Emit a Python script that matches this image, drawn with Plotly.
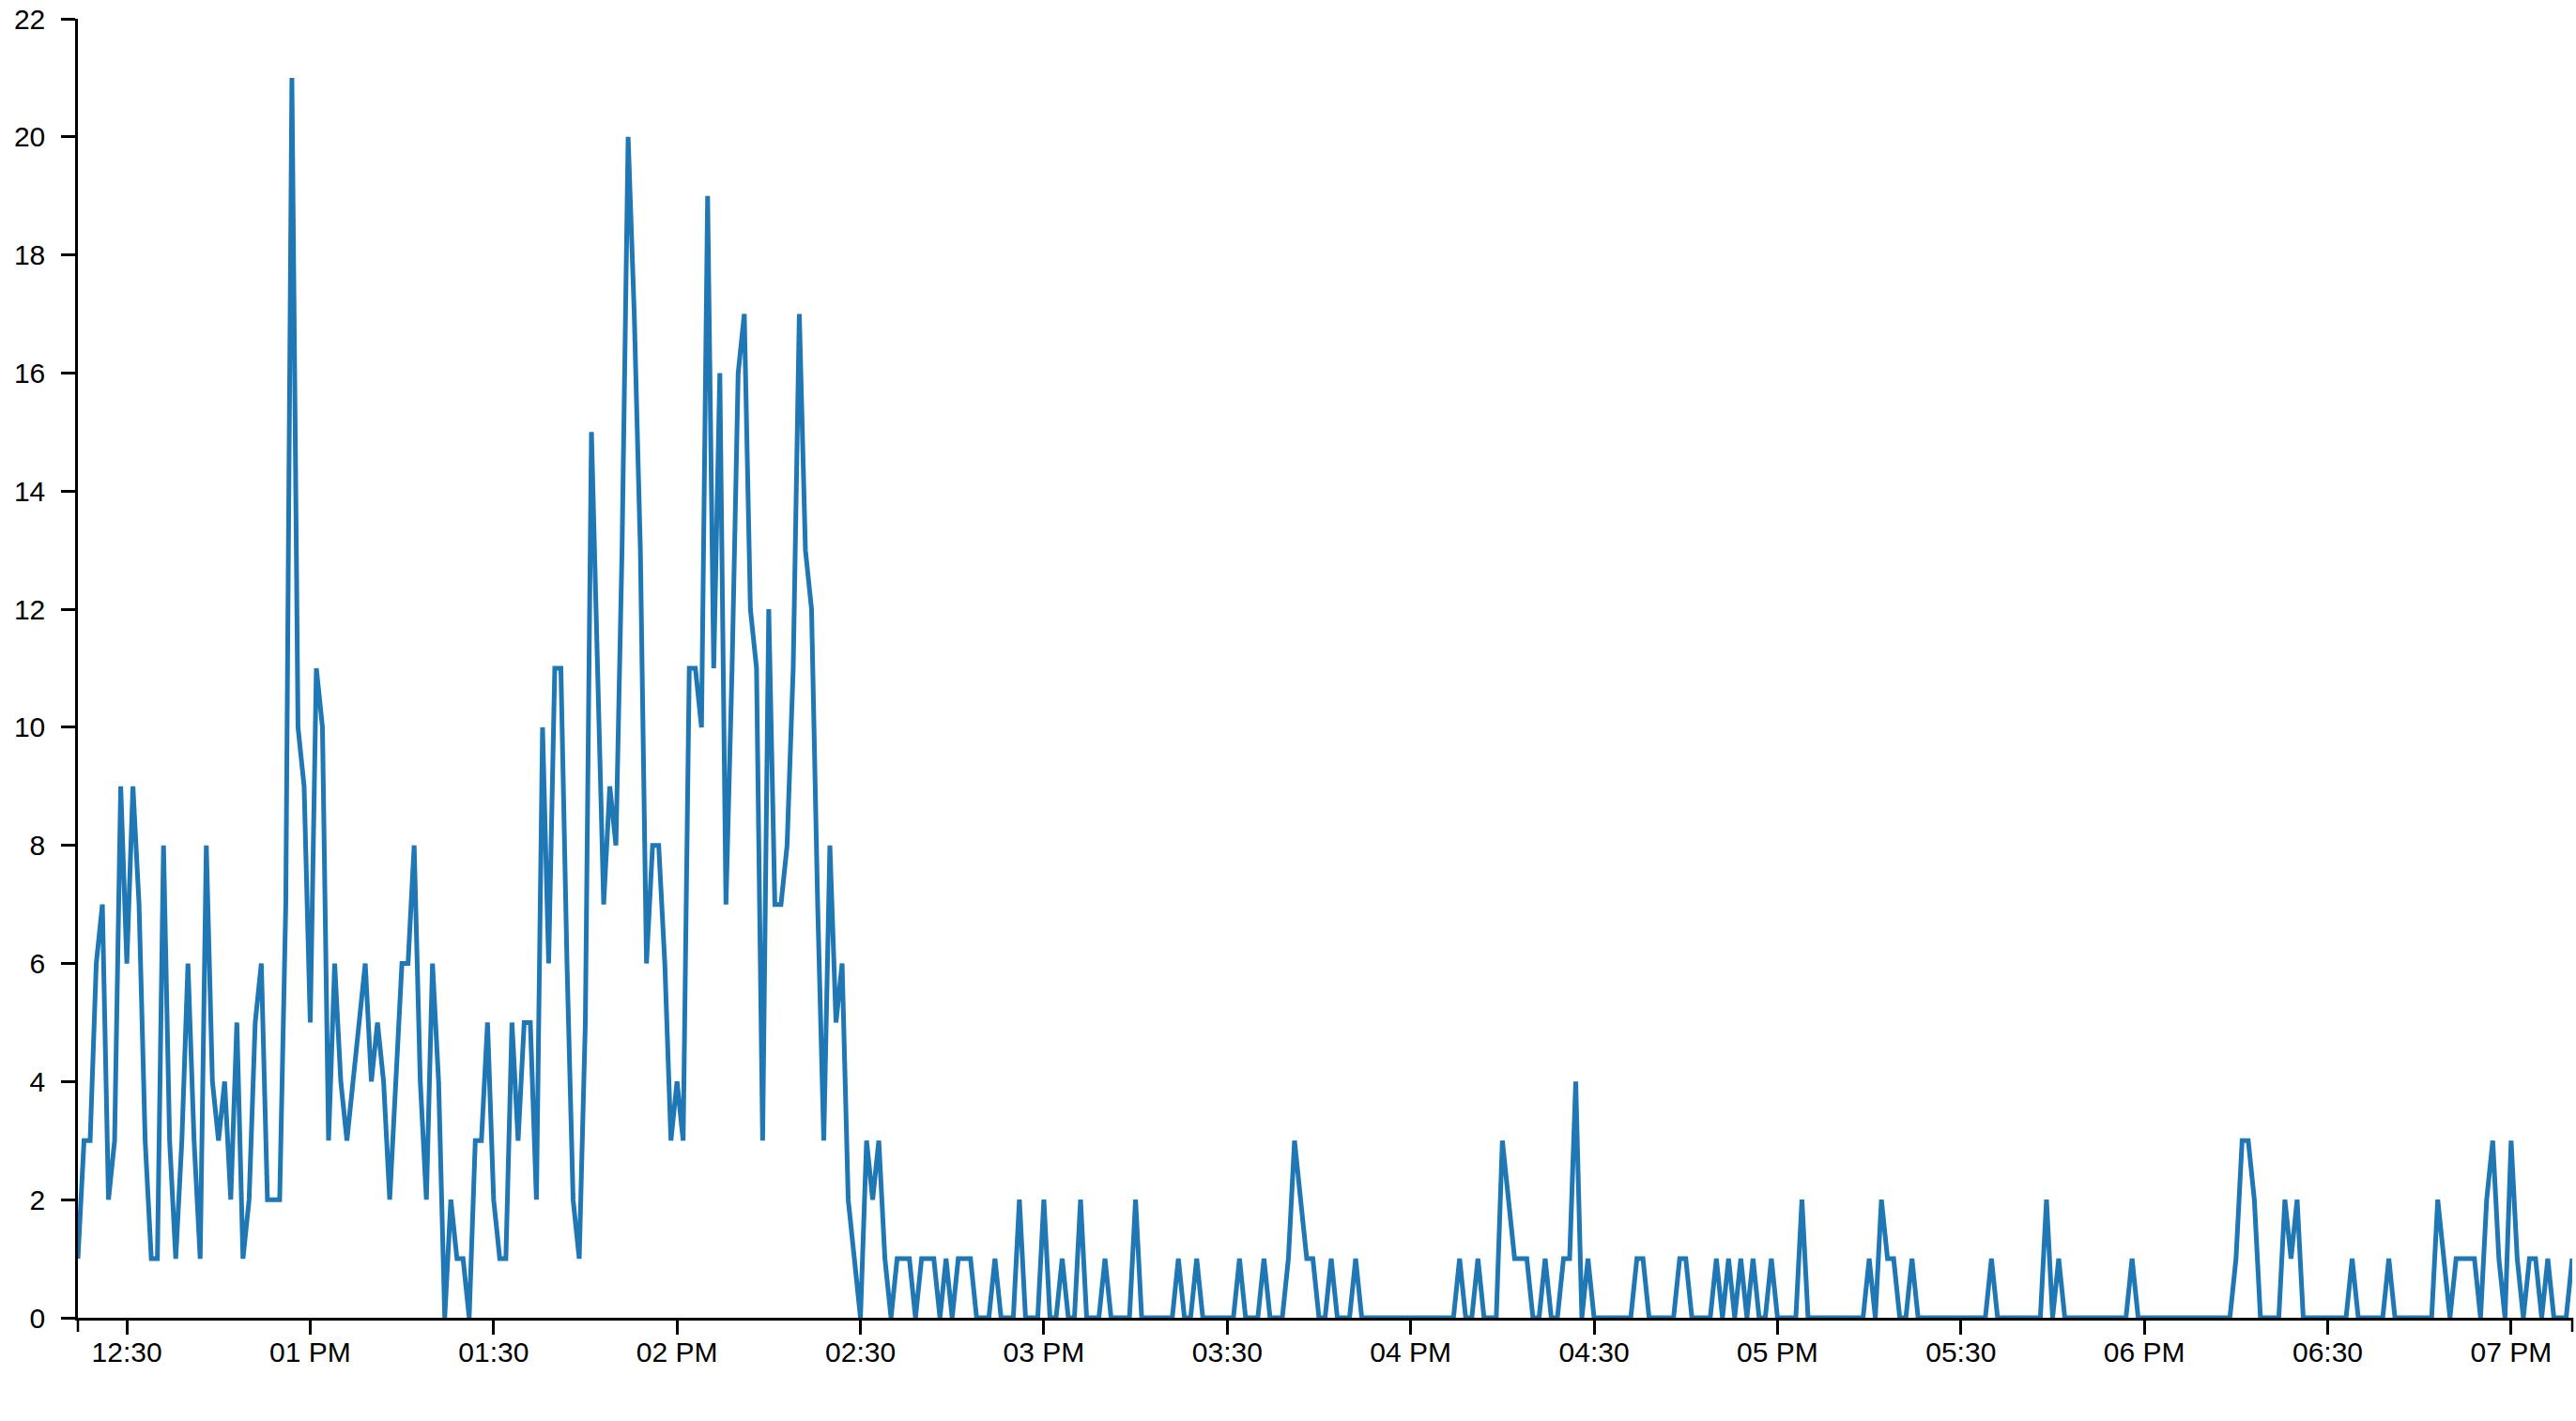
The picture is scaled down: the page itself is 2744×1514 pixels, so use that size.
import pandas as pd
import plotly.graph_objects as go

# one reading per minute, starting 12:22
start_time = "2024-01-01 12:22:00"
counts = [
    1, 3, 3, 6, 7, 2, 3, 9, 6, 9, 7, 3, 1, 1, 8, 3, 1, 3, 6, 3,
    1, 8, 4, 3, 4, 2, 5, 1, 2, 5, 6, 2, 2, 2, 7, 21, 10, 9, 5, 11,
    10, 3, 6, 4, 3, 4, 5, 6, 4, 5, 4, 2, 4, 6, 6, 8, 4, 2, 6, 4,
    0, 2, 1, 1, 0, 3, 3, 5, 2, 1, 1, 5, 3, 5, 5, 2, 10, 6, 11, 11,
    6, 2, 1, 5, 15, 11, 7, 9, 8, 13, 20, 17, 13, 6, 8, 8, 6, 3, 4, 3,
    11, 11, 10, 19, 11, 16, 7, 11, 16, 17, 12, 11, 3, 12, 7, 7, 8, 11, 17, 13,
    12, 7, 3, 8, 5, 6, 2, 1, 0, 3, 2, 3, 1, 0, 1, 1, 1, 0, 1, 1,
    1, 0, 1, 0, 1, 1, 1, 0, 0, 0, 1, 0, 0, 0, 2, 0, 0, 0, 2, 0,
    0, 1, 0, 0, 2, 0, 0, 0, 1, 0, 0, 0, 0, 2, 0, 0, 0, 0, 0, 0,
    1, 0, 0, 1, 0, 0, 0, 0, 0, 0, 1, 0, 0, 0, 1, 0, 0, 0, 1, 3,
    2, 1, 1, 0, 0, 1, 0, 0, 0, 1, 0, 0, 0, 0, 0, 0, 0, 0, 0, 0,
    0, 0, 0, 0, 0, 0, 1, 0, 0, 1, 0, 0, 0, 3, 2, 1, 1, 1, 0, 0,
    1, 0, 0, 1, 1, 4, 0, 1, 0, 0, 0, 0, 0, 0, 0, 1, 1, 0, 0, 0,
    0, 0, 1, 1, 0, 0, 0, 0, 1, 0, 1, 0, 1, 0, 1, 0, 0, 1, 0, 0,
    0, 0, 2, 0, 0, 0, 0, 0, 0, 0, 0, 0, 0, 1, 0, 2, 1, 1, 0, 0,
    1, 0, 0, 0, 0, 0, 0, 0, 0, 0, 0, 0, 0, 1, 0, 0, 0, 0, 0, 0,
    0, 0, 2, 0, 1, 0, 0, 0, 0, 0, 0, 0, 0, 0, 0, 0, 1, 0, 0, 0,
    0, 0, 0, 0, 0, 0, 0, 0, 0, 0, 0, 0, 0, 1, 3, 3, 2, 0, 0, 0,
    0, 2, 1, 2, 0, 0, 0, 0, 0, 0, 0, 0, 1, 0, 0, 0, 0, 0, 1, 0,
    0, 0, 0, 0, 0, 0, 2, 1, 0, 1, 1, 1, 1, 0, 2, 3, 1, 0, 3, 1,
    0, 1, 1, 0, 1, 0, 0, 0, 1,
]
times = pd.date_range(start_time, periods=len(counts), freq="min")

x_tick_times = pd.date_range("2024-01-01 12:30:00", "2024-01-01 19:00:00", freq="30min")
x_tick_labels = ["12:30", "01 PM", "01:30", "02 PM", "02:30", "03 PM", "03:30",
                 "04 PM", "04:30", "05 PM", "05:30", "06 PM", "06:30", "07 PM"]
y_ticks = list(range(0, 23, 2))

FONT = "Liberation Sans, Arial, Helvetica, sans-serif"
W, H = 2744, 1514
ML, MR, MT, MB = 83, 4, 20, 110
plot_h = H - MT - MB
TICKLEN = 15

fig = go.Figure(
    go.Scatter(
        x=times, y=counts, mode="lines",
        line=dict(color="#1f77b4", width=5),
        hoverinfo="x+y",
    )
)

axis_style = dict(
    showgrid=False, zeroline=False, showline=True, linecolor="black", linewidth=2.5,
    ticks="outside", ticklen=TICKLEN, tickwidth=2.5, tickcolor="black",
    tickfont=dict(family=FONT, size=30, color="black"),
    layer="below traces",
)

fig.update_xaxes(
    range=[times[0], times[-1]],
    tickmode="array", tickvals=x_tick_times, ticktext=x_tick_labels,
    ticklabelstandoff=-7,
    **axis_style,
)
fig.update_yaxes(
    range=[0, 22], tickmode="array", tickvals=y_ticks,
    ticklabelstandoff=11,
    **axis_style,
)

# outer end ticks of the x axis domain (d3 style)
for px in (0, 1):
    fig.add_shape(type="line", xref="paper", yref="paper", x0=px, x1=px,
                  y0=0, y1=-TICKLEN / plot_h, line=dict(color="black", width=2.5))

fig.update_layout(
    width=W, height=H, autosize=False,
    margin=dict(l=ML, r=MR, t=MT, b=MB, pad=0),
    plot_bgcolor="white", paper_bgcolor="white",
    showlegend=False,
    font=dict(family=FONT, size=30, color="black"),
)

fig.write_html("out.html", config={"displayModeBar": False},
               post_script="document.body.style.margin='0';")
